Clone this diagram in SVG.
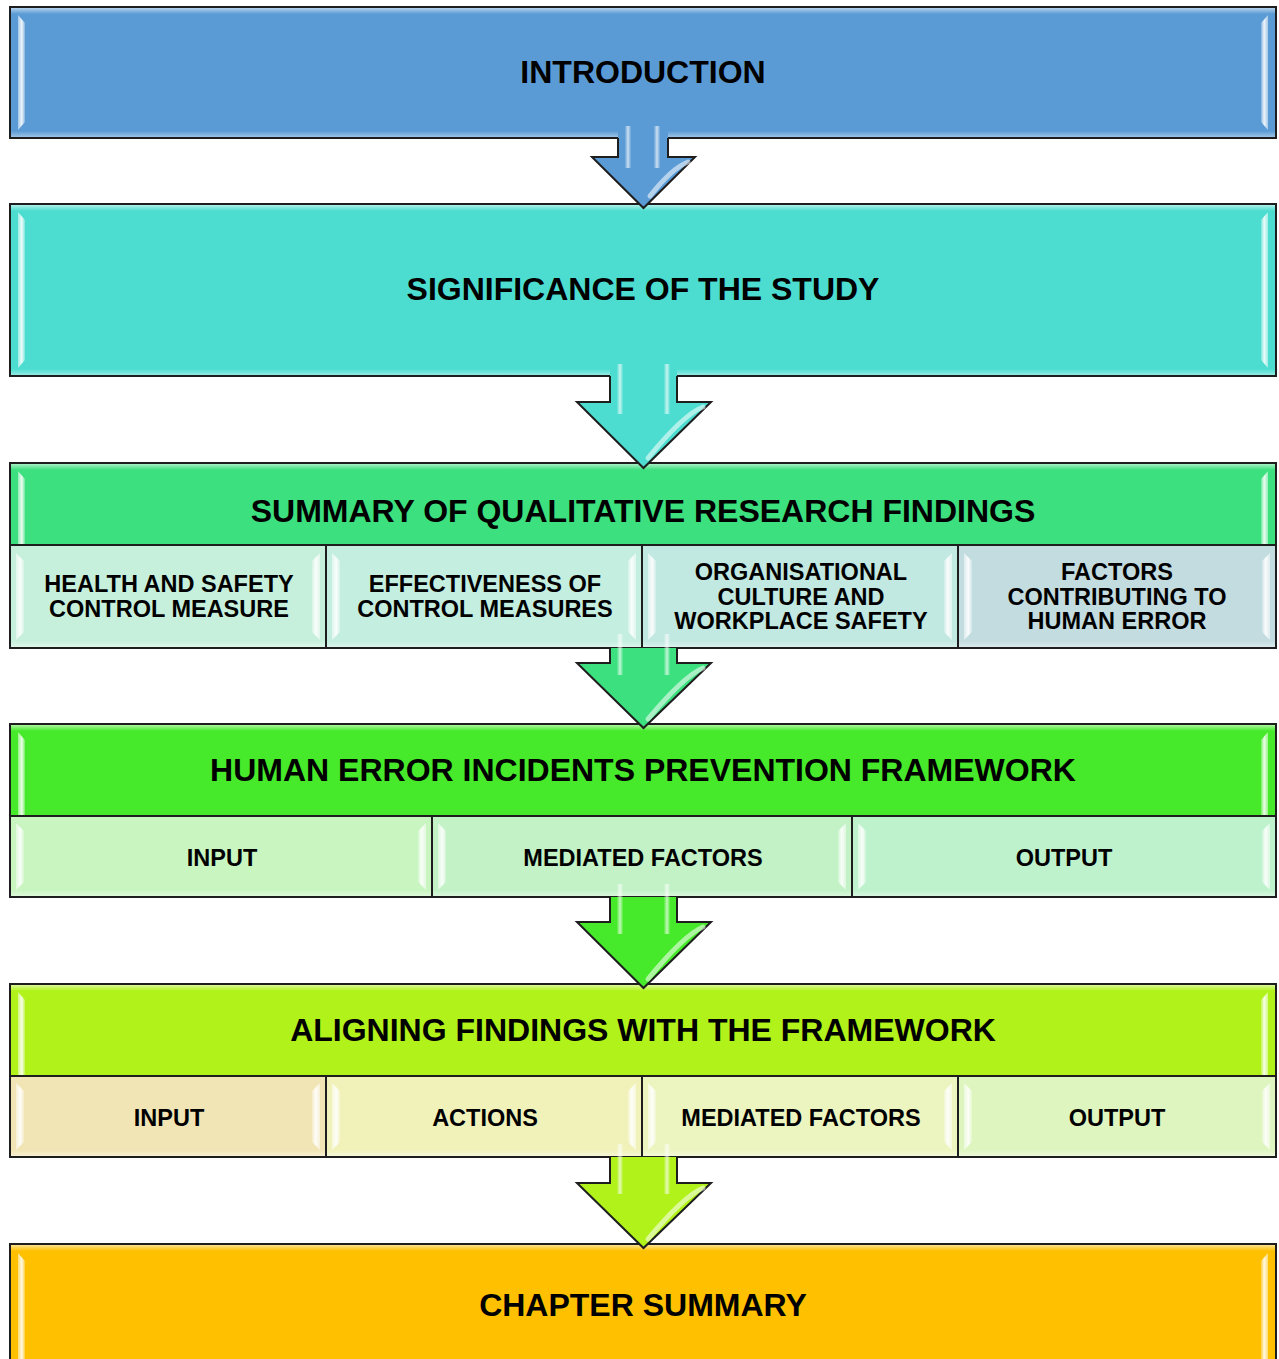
<svg xmlns="http://www.w3.org/2000/svg" width="1279" height="1359" viewBox="0 0 1279 1359">
  <defs>
    <linearGradient id="gT" x1="0" y1="0" x2="0" y2="1">
      <stop offset="0" stop-color="#fff" stop-opacity="0.55"/>
      <stop offset="1" stop-color="#fff" stop-opacity="0"/>
    </linearGradient>
    <linearGradient id="gB" x1="0" y1="0" x2="0" y2="1">
      <stop offset="0" stop-color="#fff" stop-opacity="0"/>
      <stop offset="1" stop-color="#fff" stop-opacity="0.4"/>
    </linearGradient>
    <linearGradient id="gL" x1="0" y1="0" x2="1" y2="0">
      <stop offset="0" stop-color="#fff" stop-opacity="0.45"/>
      <stop offset="0.55" stop-color="#fff" stop-opacity="0.9"/>
      <stop offset="1" stop-color="#fff" stop-opacity="0.25"/>
    </linearGradient>
    <linearGradient id="gR" x1="1" y1="0" x2="0" y2="0">
      <stop offset="0" stop-color="#fff" stop-opacity="0.45"/>
      <stop offset="0.55" stop-color="#fff" stop-opacity="0.9"/>
      <stop offset="1" stop-color="#fff" stop-opacity="0.25"/>
    </linearGradient>
    <linearGradient id="gS" x1="0" y1="0" x2="1" y2="0">
      <stop offset="0" stop-color="#fff" stop-opacity="0.1"/>
      <stop offset="0.5" stop-color="#fff" stop-opacity="0.85"/>
      <stop offset="1" stop-color="#fff" stop-opacity="0.1"/>
    </linearGradient>
  </defs>
  <style>
    .box { stroke: #1e1e1e; stroke-width: 2; }
    .t { font-family: "Liberation Sans", Arial, sans-serif; font-weight: bold; fill: #000; text-anchor: middle; }
    .big { font-size: 32px; }
    .sm { font-size: 23.5px; }
    .bT { fill: url(#gT); }
    .bB { fill: url(#gB); }
    .bL { fill: url(#gL); }
    .bR { fill: url(#gR); }
    .arr { stroke: none; }
    .aout { fill: none; stroke: #1e1e1e; stroke-width: 2; stroke-linejoin: miter; }
    .hl { fill: url(#gS); opacity: 0.8; }
    .hh { fill: none; stroke: #fff; stroke-opacity: 0.55; stroke-width: 5; stroke-linecap: round; }
  </style>

  <rect width="1279" height="1359" fill="#fff"/>

  <!-- Introduction -->
  <g id="introduction">
    <rect class="box" x="10" y="7" width="1266" height="131" fill="#5B9BD5"/>
    <rect class="bT" x="11" y="8" width="1264" height="6"/>
    <rect class="bB" x="11" y="131" width="1264" height="6"/>
    <polygon class="bL" points="18,15 25,23 25,122 18,130"/>
    <polygon class="bR" points="1268,15 1261,23 1261,122 1268,130"/>
    <text class="t big" x="643" y="83">INTRODUCTION</text>
  </g>

  <!-- Significance of the study -->
  <g id="significance">
    <rect class="box" x="10" y="204" width="1266" height="172" fill="#4CDDD0"/>
    <rect class="bT" x="11" y="205" width="1264" height="6"/>
    <rect class="bB" x="11" y="369" width="1264" height="6"/>
    <polygon class="bL" points="18,212 25,220 25,360 18,368"/>
    <polygon class="bR" points="1268,212 1261,220 1261,360 1268,368"/>
    <text class="t big" x="643" y="300">SIGNIFICANCE OF THE STUDY</text>
  </g>

  <!-- Summary of qualitative research findings -->
  <g id="summary">
    <rect class="box" x="10" y="463" width="1266" height="82" fill="#3CE07E"/>
    <rect class="bT" x="11" y="464" width="1264" height="6"/>
    <polygon class="bL" points="18,471 25,479 25,544 18,544"/>
    <polygon class="bR" points="1268,471 1261,479 1261,544 1268,544"/>
    <text class="t big" x="643" y="522">SUMMARY OF QUALITATIVE RESEARCH FINDINGS</text>

    <g id="summary-health">
      <rect class="box" x="10" y="545" width="316" height="103" fill="#C7F0DC"/>
      <rect class="bB" x="11" y="641" width="314" height="6"/>
      <polygon class="bL" points="16,553 24,561 24,632 16,640"/>
      <polygon class="bR" points="320,553 312,561 312,632 320,640"/>
      <text class="t sm" x="169" y="592">HEALTH AND SAFETY</text>
      <text class="t sm" x="169" y="617">CONTROL MEASURE</text>
    </g>
    <g id="summary-effectiveness">
      <rect class="box" x="326" y="545" width="316" height="103" fill="#C4EEE0"/>
      <rect class="bB" x="327" y="641" width="314" height="6"/>
      <polygon class="bL" points="332,553 340,561 340,632 332,640"/>
      <polygon class="bR" points="636,553 628,561 628,632 636,640"/>
      <text class="t sm" x="485" y="592">EFFECTIVENESS OF</text>
      <text class="t sm" x="485" y="617">CONTROL MEASURES</text>
    </g>
    <g id="summary-culture">
      <rect class="box" x="642" y="545" width="316" height="103" fill="#C1E8E1"/>
      <rect class="bB" x="643" y="641" width="314" height="6"/>
      <polygon class="bL" points="648,553 656,561 656,632 648,640"/>
      <polygon class="bR" points="952,553 944,561 944,632 952,640"/>
      <text class="t sm" x="801" y="580">ORGANISATIONAL</text>
      <text class="t sm" x="801" y="604.5">CULTURE AND</text>
      <text class="t sm" x="801" y="629">WORKPLACE SAFETY</text>
    </g>
    <g id="summary-factors">
      <rect class="box" x="958" y="545" width="318" height="103" fill="#C3DCE0"/>
      <rect class="bB" x="959" y="641" width="316" height="6"/>
      <polygon class="bL" points="964,553 972,561 972,632 964,640"/>
      <polygon class="bR" points="1270,553 1262,561 1262,632 1270,640"/>
      <text class="t sm" x="1117" y="580">FACTORS</text>
      <text class="t sm" x="1117" y="604.5">CONTRIBUTING TO</text>
      <text class="t sm" x="1117" y="629">HUMAN ERROR</text>
    </g>
  </g>

  <!-- Human error incidents prevention framework -->
  <g id="framework">
    <rect class="box" x="10" y="724" width="1266" height="92" fill="#46EA2A"/>
    <rect class="bT" x="11" y="725" width="1264" height="6"/>
    <polygon class="bL" points="18,732 25,740 25,815 18,815"/>
    <polygon class="bR" points="1268,732 1261,740 1261,815 1268,815"/>
    <text class="t big" x="643" y="781">HUMAN ERROR INCIDENTS PREVENTION FRAMEWORK</text>

    <g id="framework-input">
      <rect class="box" x="10" y="816" width="422" height="81" fill="#C8F5C0"/>
      <rect class="bB" x="11" y="890" width="420" height="6"/>
      <polygon class="bL" points="16,823 24,831 24,882 16,890"/>
      <polygon class="bR" points="426,823 418,831 418,882 426,890"/>
      <text class="t sm" x="222" y="866">INPUT</text>
    </g>
    <g id="framework-mediated">
      <rect class="box" x="432" y="816" width="420" height="81" fill="#C2F2C5"/>
      <rect class="bB" x="433" y="890" width="418" height="6"/>
      <polygon class="bL" points="438,823 446,831 446,882 438,890"/>
      <polygon class="bR" points="846,823 838,831 838,882 846,890"/>
      <text class="t sm" x="643" y="866">MEDIATED FACTORS</text>
    </g>
    <g id="framework-output">
      <rect class="box" x="852" y="816" width="424" height="81" fill="#BEF2CC"/>
      <rect class="bB" x="853" y="890" width="422" height="6"/>
      <polygon class="bL" points="858,823 866,831 866,882 858,890"/>
      <polygon class="bR" points="1270,823 1262,831 1262,882 1270,890"/>
      <text class="t sm" x="1064" y="866">OUTPUT</text>
    </g>
  </g>

  <!-- Aligning findings with the framework -->
  <g id="aligning">
    <rect class="box" x="10" y="984" width="1266" height="92" fill="#B0F21A"/>
    <rect class="bT" x="11" y="985" width="1264" height="6"/>
    <polygon class="bL" points="18,992 25,1000 25,1075 18,1075"/>
    <polygon class="bR" points="1268,992 1261,1000 1261,1075 1268,1075"/>
    <text class="t big" x="643" y="1041">ALIGNING FINDINGS WITH THE FRAMEWORK</text>

    <g id="aligning-input">
      <rect class="box" x="10" y="1076" width="316" height="81" fill="#F2E5B5"/>
      <rect class="bB" x="11" y="1150" width="314" height="6"/>
      <polygon class="bL" points="16,1083 24,1091 24,1142 16,1150"/>
      <polygon class="bR" points="320,1083 312,1091 312,1142 320,1150"/>
      <text class="t sm" x="169" y="1126">INPUT</text>
    </g>
    <g id="aligning-actions">
      <rect class="box" x="326" y="1076" width="316" height="81" fill="#F1F2BA"/>
      <rect class="bB" x="327" y="1150" width="314" height="6"/>
      <polygon class="bL" points="332,1083 340,1091 340,1142 332,1150"/>
      <polygon class="bR" points="636,1083 628,1091 628,1142 636,1150"/>
      <text class="t sm" x="485" y="1126">ACTIONS</text>
    </g>
    <g id="aligning-mediated">
      <rect class="box" x="642" y="1076" width="316" height="81" fill="#ECF5C0"/>
      <rect class="bB" x="643" y="1150" width="314" height="6"/>
      <polygon class="bL" points="648,1083 656,1091 656,1142 648,1150"/>
      <polygon class="bR" points="952,1083 944,1091 944,1142 952,1150"/>
      <text class="t sm" x="801" y="1126">MEDIATED FACTORS</text>
    </g>
    <g id="aligning-output">
      <rect class="box" x="958" y="1076" width="318" height="81" fill="#DEF5C0"/>
      <rect class="bB" x="959" y="1150" width="316" height="6"/>
      <polygon class="bL" points="964,1083 972,1091 972,1142 964,1150"/>
      <polygon class="bR" points="1270,1083 1262,1091 1262,1142 1270,1150"/>
      <text class="t sm" x="1117" y="1126">OUTPUT</text>
    </g>
  </g>

  <!-- Chapter summary (runs past the bottom edge) -->
  <g id="chapter-summary">
    <rect class="box" x="10" y="1244" width="1266" height="130" fill="#FFC000"/>
    <rect class="bT" x="11" y="1245" width="1264" height="6"/>
    <polygon class="bL" points="18,1253 25,1261 25,1359 18,1359"/>
    <polygon class="bR" points="1268,1253 1261,1261 1261,1359 1268,1359"/>
    <text class="t big" x="643" y="1316">CHAPTER SUMMARY</text>
  </g>

  <!-- Block arrows between sections -->
  <g id="connectors">
    <g id="arrow-1">
      <polygon class="arr" fill="#5B9BD5" points="618,124 668,124 668,157 695,157 643.5,208 592,157 618,157"/>
      <polyline class="aout" points="618,138 618,157 592,157 643.5,208 695,157 668,157 668,138"/>
      <rect class="hl" x="625" y="126" width="6" height="42"/>
      <rect class="hl" x="654" y="126" width="6" height="42"/>
      <path class="hh" d="M688,162 Q672,168 650,196"/>
    </g>
    <g id="arrow-2">
      <polygon class="arr" fill="#4CDDD0" points="610,362 677,362 677,402 711,402 643.5,468 577,402 610,402"/>
      <polyline class="aout" points="610,376 610,402 577,402 643.5,468 711,402 677,402 677,376"/>
      <rect class="hl" x="617" y="364" width="6" height="50"/>
      <rect class="hl" x="664" y="364" width="6" height="50"/>
      <path class="hh" d="M703,407 Q684,414 648,458"/>
    </g>
    <g id="arrow-3">
      <polygon class="arr" fill="#3CE07E" points="610,648 677,648 677,663 711,663 643.5,728 577,663 610,663"/>
      <polyline class="aout" points="610,648 610,663 577,663 643.5,728 711,663 677,663 677,648"/>
      <rect class="hl" x="617" y="634" width="6" height="41"/>
      <rect class="hl" x="664" y="634" width="6" height="41"/>
      <path class="hh" d="M703,668 Q684,676 648,719"/>
    </g>
    <g id="arrow-4">
      <polygon class="arr" fill="#46EA2A" points="610,897 677,897 677,922 711,922 643.5,988 577,922 610,922"/>
      <polyline class="aout" points="610,897 610,922 577,922 643.5,988 711,922 677,922 677,897"/>
      <rect class="hl" x="617" y="884" width="6" height="50"/>
      <rect class="hl" x="664" y="884" width="6" height="50"/>
      <path class="hh" d="M703,927 Q684,935 648,979"/>
    </g>
    <g id="arrow-5">
      <polygon class="arr" fill="#B0F21A" points="610,1157 677,1157 677,1183 711,1183 643.5,1248 577,1183 610,1183"/>
      <polyline class="aout" points="610,1157 610,1183 577,1183 643.5,1248 711,1183 677,1183 677,1157"/>
      <rect class="hl" x="617" y="1144" width="6" height="50"/>
      <rect class="hl" x="664" y="1144" width="6" height="50"/>
      <path class="hh" d="M703,1188 Q684,1196 648,1239"/>
    </g>
  </g>
</svg>
